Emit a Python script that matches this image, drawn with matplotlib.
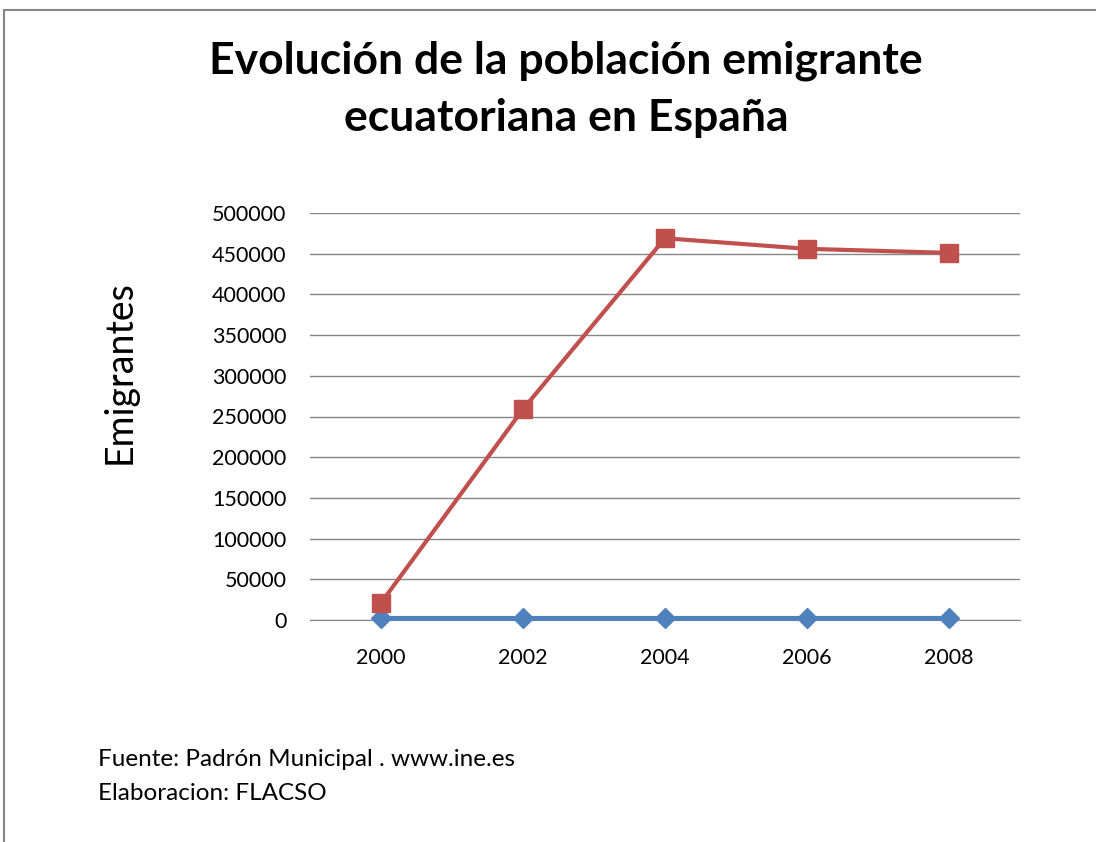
import matplotlib
matplotlib.use("Agg")
from matplotlib import pyplot as plt
import numpy as np

# datos del padrón
anios = ["2000", "2002", "2004", "2006", "2008"]
serie_anios = [2000, 2002, 2004, 2006, 2008]
emigrantes = [21000, 259000, 469000, 456000, 451000]

plt.rcParams['font.family'] = ['Lato', 'DejaVu Sans']

fig = plt.figure(figsize=(10.96, 8.42), dpi=100)

# marco del gráfico
fig.patches.append(plt.Rectangle((4 / 1096, -0.1), 1.2, (842 - 10) / 842 + 0.1,
                                 transform=fig.transFigure, fill=False,
                                 edgecolor="#868686", linewidth=1.5))

ax = fig.add_axes([310 / 1096, 222 / 842, 710 / 1096, 407 / 842])
x = np.arange(len(anios)) + 0.5

ax.plot(x, serie_anios, color="#4F81BD", linewidth=3.5, marker="D",
        markersize=10, zorder=3, clip_on=False)
ax.plot(x, emigrantes, color="#C0504D", linewidth=3, marker="s",
        markersize=13, zorder=4, clip_on=False)

ax.set_xlim(0, 5)
ax.set_ylim(0, 500000)
ax.set_yticks(np.arange(0, 500001, 50000))
ax.set_xticks(x)
ax.set_xticklabels(anios)
ax.tick_params(axis="both", length=0, labelsize=15.5, colors="black")
ax.tick_params(axis="y", pad=17)
ax.tick_params(axis="x", pad=20)
ax.grid(axis="y", color="#868686", linewidth=1)
ax.set_axisbelow(True)
for s in ["top", "right", "left"]:
    ax.spines[s].set_visible(False)
ax.spines["bottom"].set_color("#868686")

fig.text(120 / 1096, 1 - 372 / 842, "Emigrantes", rotation=90, fontsize=27,
         ha="center", va="center")

fig.text(566 / 1096, 1 - 89 / 842,
         "Evolución de la población emigrante\necuatoriana en España",
         fontsize=32, fontweight="bold", ha="center", va="center",
         linespacing=1.5)

fig.text(98 / 1096, 1 - 760 / 842, "Fuente: Padrón Municipal . www.ine.es",
         fontsize=17.5, va="center")
fig.text(98 / 1096, 1 - 793 / 842, "Elaboracion: FLACSO",
         fontsize=17.5, va="center")

fig.savefig("out.png", dpi=100)
